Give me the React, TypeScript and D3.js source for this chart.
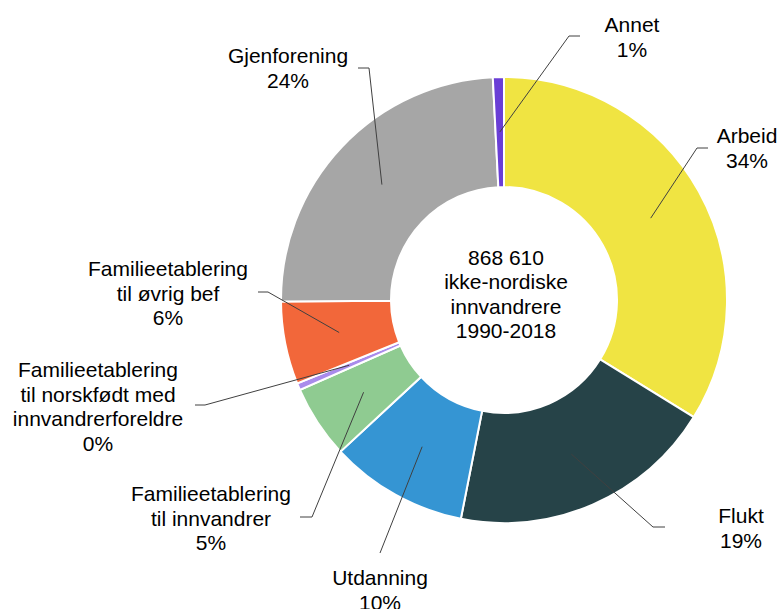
import { useEffect, useRef } from 'react';
import * as d3 from 'd3';

const categories = [
  'Arbeid',
  'Flukt',
  'Utdanning',
  'Familieetablering til innvandrer',
  'Familieetablering til norskfødt med innvandrerforeldre',
  'Familieetablering til øvrig bef',
  'Gjenforening',
  'Annet',
];
const shares = [33.8, 19.3, 10.0, 5.3, 0.5, 6.0, 24.3, 0.8];
const percentLabels = ['34%', '19%', '10%', '5%', '0%', '6%', '24%', '1%'];
const labelLines = [
  ['Arbeid'],
  ['Flukt'],
  ['Utdanning'],
  ['Familieetablering', 'til innvandrer'],
  ['Familieetablering', 'til norskfødt med', 'innvandrerforeldre'],
  ['Familieetablering', 'til øvrig bef'],
  ['Gjenforening'],
  ['Annet'],
];
const centerText = ['868 610', 'ikke-nordiske', 'innvandrere', '1990-2018'];

const colors = ['#F0E442', '#264348', '#3595D3', '#8FCB91', '#A98BEB', '#F2673A', '#A6A6A6', '#6A3ED6'];

// label anchor (x, first baseline), leader elbow and end
const layout = [
  { x: 747, y: 143, elbow: [697, 148], end: [708, 148] },
  { x: 741, y: 523, elbow: [653, 527], end: [665, 527] },
  { x: 380, y: 585, elbow: [380, 553], end: [380, 553] },
  { x: 211, y: 501, elbow: [312, 517], end: [300, 517] },
  { x: 98, y: 377, elbow: [205, 405], end: [195, 405] },
  { x: 168, y: 276, elbow: [268, 292], end: [258, 292] },
  { x: 288, y: 63, elbow: [369, 68], end: [358, 68] },
  { x: 632, y: 32, elbow: [569, 36], end: [580, 36] },
];

export default function App() {
  const svgRef = useRef<SVGSVGElement>(null);

  useEffect(() => {
    const width = 781;
    const height = 609;
    const cx = 504;
    const cy = 300;
    const outer = 223;
    const inner = 113;
    const font = 'Liberation Sans, Arial, sans-serif';
    const lineH = 24.5;

    const data = categories.map((c, i) => ({ c, v: shares[i], i }));
    const pie = d3
      .pie<{ c: string; v: number; i: number }>()
      .value(d => d.v)
      .sort(null);
    const arcs = pie(data);
    const arc = d3
      .arc<d3.PieArcDatum<{ c: string; v: number; i: number }>>()
      .innerRadius(inner)
      .outerRadius(outer);
    const mid = d3
      .arc<d3.PieArcDatum<{ c: string; v: number; i: number }>>()
      .innerRadius(168)
      .outerRadius(168);

    const svg = d3.select(svgRef.current).attr('width', width).attr('height', height);
    svg.selectAll('*').remove();

    const g = svg.append('g').attr('transform', `translate(${cx},${cy})`);

    // Slices
    g.selectAll('path')
      .data(arcs)
      .enter()
      .append('path')
      .attr('d', arc)
      .attr('fill', d => colors[d.data.i])
      .attr('stroke', '#fff')
      .attr('stroke-width', 2);

    // Leader lines
    arcs.forEach(d => {
      const [mx, my] = mid.centroid(d);
      const l = layout[d.data.i];
      svg
        .append('polyline')
        .attr('points', `${mx + cx},${my + cy} ${l.elbow[0]},${l.elbow[1]} ${l.end[0]},${l.end[1]}`)
        .attr('fill', 'none')
        .attr('stroke', '#404040')
        .attr('stroke-width', 1);
    });

    // Labels
    arcs.forEach(d => {
      const i = d.data.i;
      const l = layout[i];
      const lines = [...labelLines[i], percentLabels[i]];
      const t = svg
        .append('text')
        .attr('text-anchor', 'middle')
        .attr('font-family', font)
        .attr('font-size', 21)
        .attr('fill', '#000');
      lines.forEach((s, k) => {
        t.append('tspan').attr('x', l.x).attr('y', l.y + k * lineH).text(s);
      });
    });

    // Center text
    const ct = svg
      .append('text')
      .attr('text-anchor', 'middle')
      .attr('font-family', font)
      .attr('font-size', 21)
      .attr('fill', '#000');
    centerText.forEach((s, k) => {
      ct.append('tspan').attr('x', 506).attr('y', 265 + k * 24.3).text(s);
    });
  }, []);

  return (
    <div style={{ position: 'absolute', left: 0, top: 0, background: '#fff' }}>
      <svg ref={svgRef} style={{ display: 'block' }}></svg>
    </div>
  );
}
